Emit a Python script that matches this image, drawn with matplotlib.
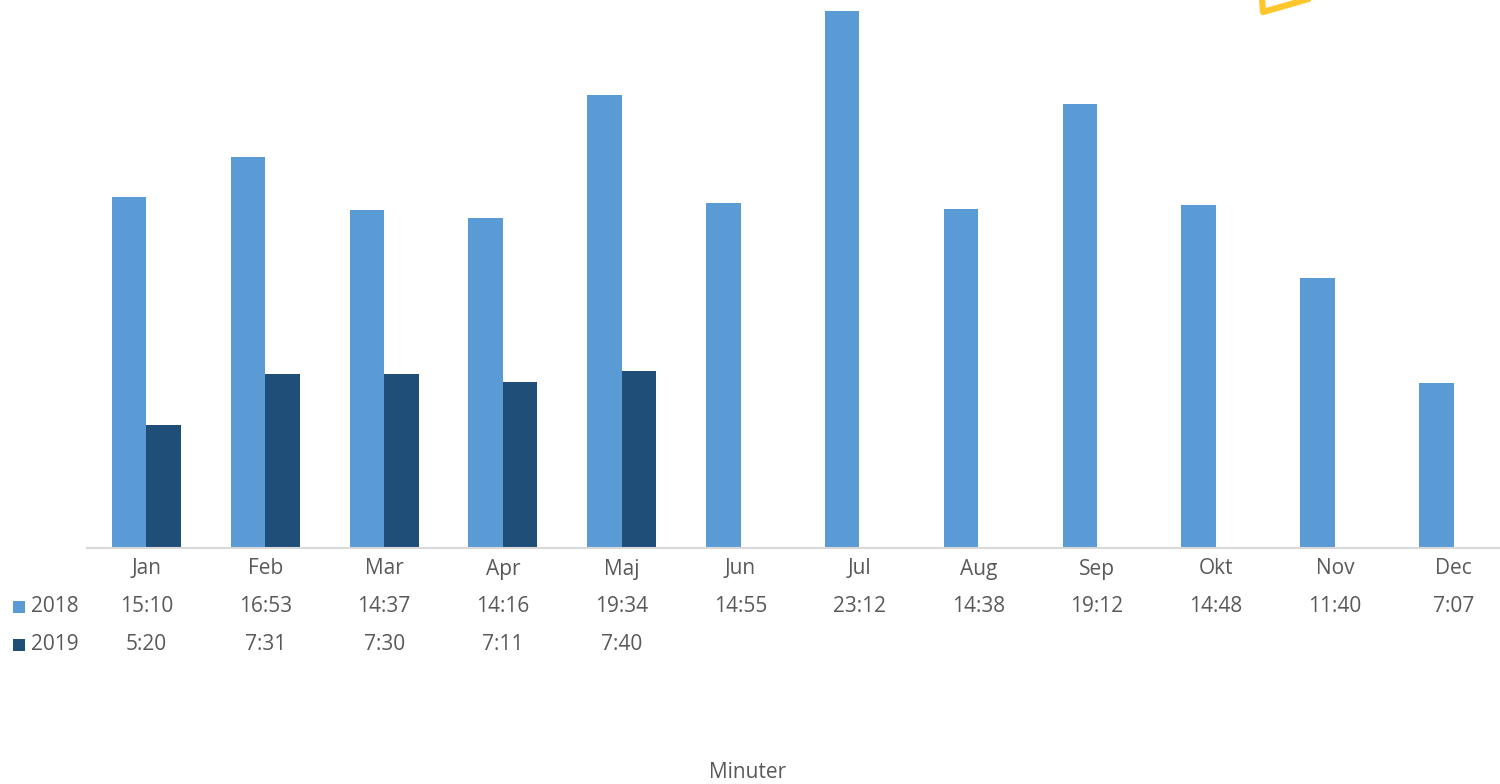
import matplotlib
matplotlib.use("Agg")
import matplotlib.pyplot as plt
import matplotlib.transforms as mtransforms
from matplotlib.lines import Line2D
from matplotlib.patches import Rectangle

months = ["Jan", "Feb", "Mar", "Apr", "Maj", "Jun", "Jul", "Aug", "Sep", "Okt", "Nov", "Dec"]
labels_2018 = ["15:10", "16:53", "14:37", "14:16", "19:34", "14:55", "23:12", "14:38", "19:12", "14:48", "11:40", "7:07"]
labels_2019 = ["5:20", "7:31", "7:30", "7:11", "7:40"]

def to_minutes(s):
    m, sec = s.split(":")
    return int(m) + int(sec) / 60.0

values_2018 = [to_minutes(s) for s in labels_2018]
values_2019 = [to_minutes(s) for s in labels_2019]

C2018 = "#5B9BD5"
C2019 = "#1F4E79"
TXT = "#595959"

plt.rcParams['font.family'] = ['Open Sans', 'DejaVu Sans']

W, H = 1500, 784
fig = plt.figure(figsize=(W / 100, H / 100), dpi=100)
left = 87 / W
right = 1513 / W
bottom = 1 - 548 / H
ax = fig.add_axes([left, bottom, right - left, 1 - bottom])

x = list(range(len(months)))
bw = 0.29
ax.bar([i - bw / 2 for i in x], values_2018, width=bw, color=C2018, label="2018", zorder=2)
ax.bar([i + bw / 2 for i in range(len(values_2019))], values_2019, width=bw, color=C2019, label="2019", zorder=2)

ax.set_xlim(-0.5, len(months) - 0.5)
ax.set_ylim(0, 548 / 23.15)
for s in ["top", "right", "left"]:
    ax.spines[s].set_visible(False)
ax.spines["bottom"].set_color("#D9D9D9")
ax.spines["bottom"].set_linewidth(1.5)
ax.set_yticks([])
ax.set_xticks([])

# data table under the axis
trans = mtransforms.blended_transform_factory(ax.transData, fig.transFigure)
fs = 15
row_y = [1 - 569 / H, 1 - 606 / H, 1 - 644 / H]
for i, m in enumerate(months):
    ax.text(i, row_y[0], m, transform=trans, ha="center", va="center", fontsize=fs, color=TXT, clip_on=False)
for i, s in enumerate(labels_2018):
    ax.text(i, row_y[1], s, transform=trans, ha="center", va="center", fontsize=fs, color=TXT, clip_on=False)
for i, s in enumerate(labels_2019):
    ax.text(i, row_y[2], s, transform=trans, ha="center", va="center", fontsize=fs, color=TXT, clip_on=False)

# legend keys
for yy, col, lab in [(row_y[1], C2018, "2018"), (row_y[2], C2019, "2019")]:
    fig.patches.append(Rectangle((13 / W, yy - 7 / H), 12 / W, 12 / H, transform=fig.transFigure,
                                 facecolor=col, edgecolor="none"))
    fig.text(31 / W, yy, lab, ha="left", va="center", fontsize=fs, color=TXT)

fig.text(748 / W, 1 - 772 / H, "Minuter", ha="center", va="center", fontsize=fs, color=TXT)

# yellow decorative shape at the top right (partially cropped)
fig.lines.append(Line2D([1262 / W, 1263 / W, 1312 / W], [1 + 2 / H, 1 - 12 / H, 1 + 2 / H],
                        transform=fig.transFigure, color="#FFC72C", linewidth=4.5,
                        solid_joinstyle="round", solid_capstyle="round"))

fig.savefig("out.png", dpi=100, facecolor="white")
